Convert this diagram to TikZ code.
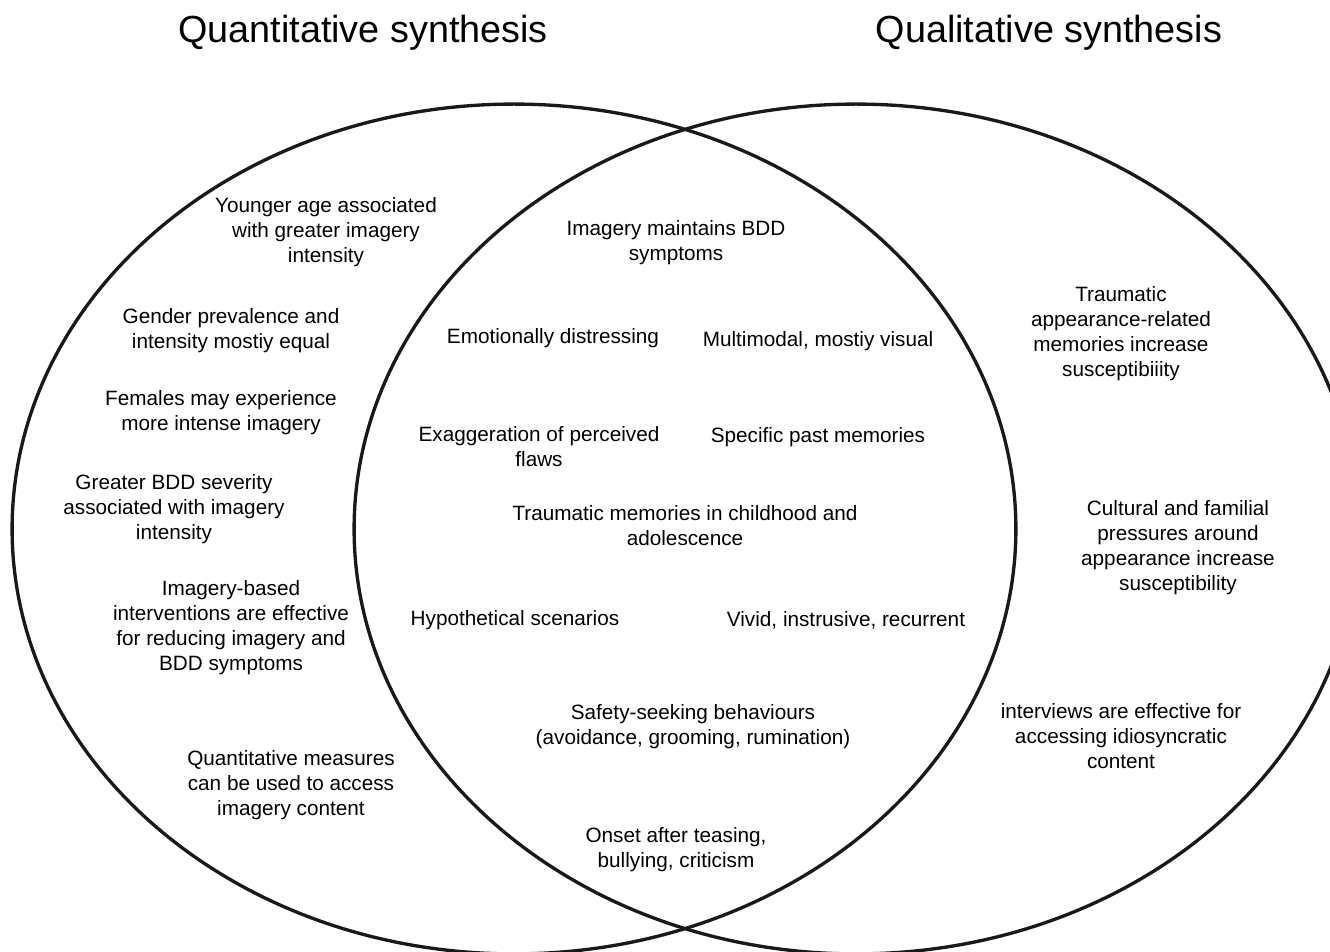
\documentclass[tikz,border=0pt]{standalone}
\usepackage{fontspec}
\setmainfont{Liberation Sans}
\usetikzlibrary{positioning}

\tikzset{
  venn/.style={line width=1.9pt, draw=black!90},
  heading/.style={font=\fontsize{21.5}{26}\selectfont, yshift=-0.06cm},
  item/.style={align=center, font=\fontsize{11.8}{14.2}\selectfont, inner sep=0pt, yshift=-0.05cm}
}

\begin{document}
\begin{tikzpicture}[x=0.02cm,y=-0.02cm]
            \useasboundingbox (0,0) rectangle (1330,952);
            \clip (0,0) rectangle (1330,952);
            % two sets
            \draw[venn] (514,529) ellipse [x radius=10.04cm, y radius=8.5cm];
            \draw[venn] (856,529) ellipse [x radius=10.04cm, y radius=8.5cm];
            \node[heading] (quant) at (363,30) {Quantitative synthesis};
            \node[heading] (qual) at (1049,30) {Qualitative synthesis};
            % left only
            \node[item] (younger) at (326,230) {Younger age associated\\with greater imagery\\intensity};
            \node[item] (gender) at (231,328) {Gender prevalence and\\intensity mostiy equal};
            \node[item] (females) at (221,410) {Females may experience\\more intense imagery};
            \node[item] (severity) at (174,507) {Greater BDD severity\\associated with imagery\\intensity};
            \node[item] (interv) at (231,625) {Imagery-based\\interventions are effective\\for reducing imagery and\\BDD symptoms};
            \node[item] (measures) at (291,783) {Quantitative measures\\can be used to access\\imagery content};
            % overlap
            \node[item] (maintains) at (676,240) {Imagery maintains BDD\\symptoms};
            \node[item] (distress) at (553,336) {Emotionally distressing};
            \node[item] (multimodal) at (818,339) {Multimodal, mostiy visual};
            \node[item] (exagg) at (539,444) {Exaggeration of perceived\\flaws};
            \node[item] (specific) at (818,435) {Specific past memories};
            \node[item] (childhood) at (685,523) {Traumatic memories in childhood and\\adolescence};
            \node[item] (hypo) at (515,618) {Hypothetical scenarios};
            \node[item] (vivid) at (846,618) {Vivid, instrusive, recurrent};
            \node[item] (safety) at (693,724) {Safety-seeking behaviours\\(avoidance, grooming, rumination)};
            \node[item] (onset) at (676,847) {Onset after teasing,\\bullying, criticism};
            % right only
            \node[item] (trauma) at (1121,331) {Traumatic\\appearance-related\\memories increase\\susceptibiiity};
            \node[item] (cultural) at (1178,545) {Cultural and familial\\pressures around\\appearance increase\\susceptibility};
            \node[item] (interviews) at (1121,734) {interviews are effective for\\accessing idiosyncratic\\content};
        \end{tikzpicture}
\end{document}
